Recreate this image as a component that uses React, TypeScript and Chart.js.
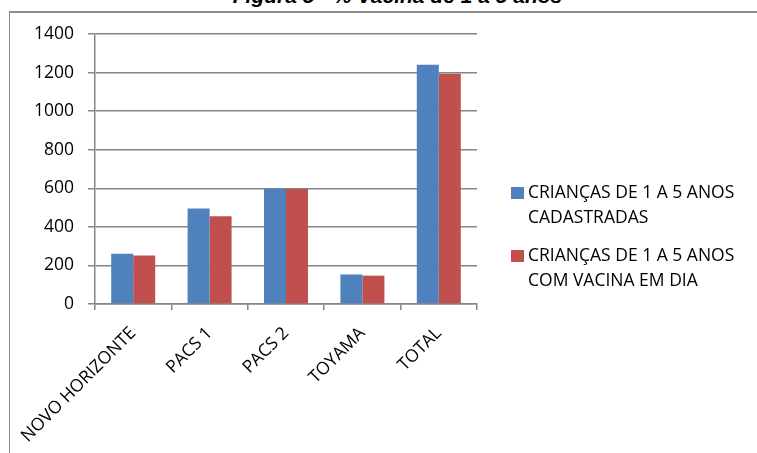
import React, { useEffect, useRef } from "react";
import { Chart, registerables } from "chart.js";

Chart.register(...registerables);

const categories = ["NOVO HORIZONTE", "PACS 1", "PACS 2", "TOYAMA", "TOTAL"];
const cadastradas = [260, 495, 598, 153, 1240];
const vacinaEmDia = [252, 455, 596, 147, 1194];
const seriesLabels = [
  ["CRIANÇAS DE 1 A 5 ANOS", "CADASTRADAS"],
  ["CRIANÇAS DE 1 A 5 ANOS", "COM VACINA EM DIA"],
];
const yTicks = [0, 200, 400, 600, 800, 1000, 1200, 1400];
const titleText = "Figura 5 - % Vacina de 1 a 5 anos";

const BLUE = "#4F81BD";
const RED = "#C0504D";
const GRID = "#868686";
const FONT = "'Open Sans', sans-serif";

const legendPlugin = {
  id: "customLegend",
  afterDraw(chart: any) {
    const ctx = chart.ctx;
    ctx.save();
    ctx.font = `17.5px ${FONT}`;
    ctx.textBaseline = "middle";
    ctx.textAlign = "left";
    ctx.fillStyle = "#000";
    const x0 = chart.chartArea.right + 34;
    const tops = [193, 256];
    chart.data.datasets.forEach((ds: any, i: number) => {
      const y = tops[i];
      ctx.fillStyle = ds.backgroundColor;
      ctx.fillRect(x0, y - 6, 13, 12);
      ctx.fillStyle = "#000";
      const lines: string[] = ds.legendLines;
      lines.forEach((ln, j) => ctx.fillText(ln, x0 + 17, y + j * 25.5));
    });
    ctx.restore();
  },
};

export default function App() {
  const ref = useRef<HTMLCanvasElement>(null);
  useEffect(() => {
    if (!ref.current) return;
    const chart = new Chart(ref.current, {
      type: "bar",
      data: {
        labels: categories,
        datasets: [
          {
            label: seriesLabels[0].join(" "),
            data: cadastradas,
            backgroundColor: BLUE,
            legendLines: seriesLabels[0],
          } as any,
          {
            label: seriesLabels[1].join(" "),
            data: vacinaEmDia,
            backgroundColor: RED,
            legendLines: seriesLabels[1],
          } as any,
        ],
      },
      options: {
        responsive: false,
        animation: false,
        devicePixelRatio: 1,
        layout: { padding: { left: 0, top: 34, right: 280, bottom: 0 } },
        plugins: {
          legend: { display: false },
          title: { display: false },
          tooltip: { enabled: false },
        },
        datasets: {
          bar: { categoryPercentage: 0.576, barPercentage: 1.0 },
        },
        scales: {
          x: {
            offset: true,
            grid: {
              display: true,
              drawOnChartArea: false,
              drawTicks: true,
              tickLength: 6,
              color: GRID,
              lineWidth: 1.5,
              offset: true,
            },
            border: { display: true, color: GRID, width: 1.5 },
            ticks: {
              autoSkip: false,
              maxRotation: 45,
              minRotation: 45,
              color: "#000",
              font: { family: FONT, size: 17.5 },
              padding: 13,
            },
            afterFit: (scale: any) => {
              scale.height = 149;
            },
          },
          y: {
            min: 0,
            max: 1400,
            afterBuildTicks: (scale: any) => {
              scale.ticks = yTicks.map((v) => ({ value: v }));
            },
            grid: {
              color: GRID,
              lineWidth: 1.5,
              tickLength: 7,
              drawTicks: true,
            },
            border: { display: true, color: GRID, width: 1.5 },
            ticks: {
              color: "#000",
              font: { family: FONT, size: 17.5 },
              padding: 14,
              callback: (v: any) => String(v),
            },
            afterFit: (scale: any) => {
              scale.width = 95;
            },
          },
        },
      },
      plugins: [legendPlugin],
    });
    return () => chart.destroy();
  }, []);

  return (
    <div
      style={{
        position: "absolute",
        left: 0,
        top: 0,
        width: 757,
        height: 453,
        overflow: "hidden",
        background: "#fff",
      }}
    >
      <div
        style={{
          position: "absolute",
          left: 9,
          top: 11,
          width: 800,
          height: 500,
          borderTop: `2px solid #8c8c8c`,
          borderLeft: `1.5px solid #8c8c8c`,
        }}
      />
      <div
        style={{
          position: "absolute",
          left: 0,
          width: 795,
          top: -15.5,
          textAlign: "center",
          font: "italic bold 21px 'Liberation Sans', Arial, sans-serif",
          lineHeight: "21px",
          whiteSpace: "nowrap",
          color: "#000",
        }}
      >
        {titleText}
      </div>
      <canvas
        ref={ref}
        width={757}
        height={453}
        style={{ position: "absolute", left: 0, top: 0 }}
      />
    </div>
  );
}
